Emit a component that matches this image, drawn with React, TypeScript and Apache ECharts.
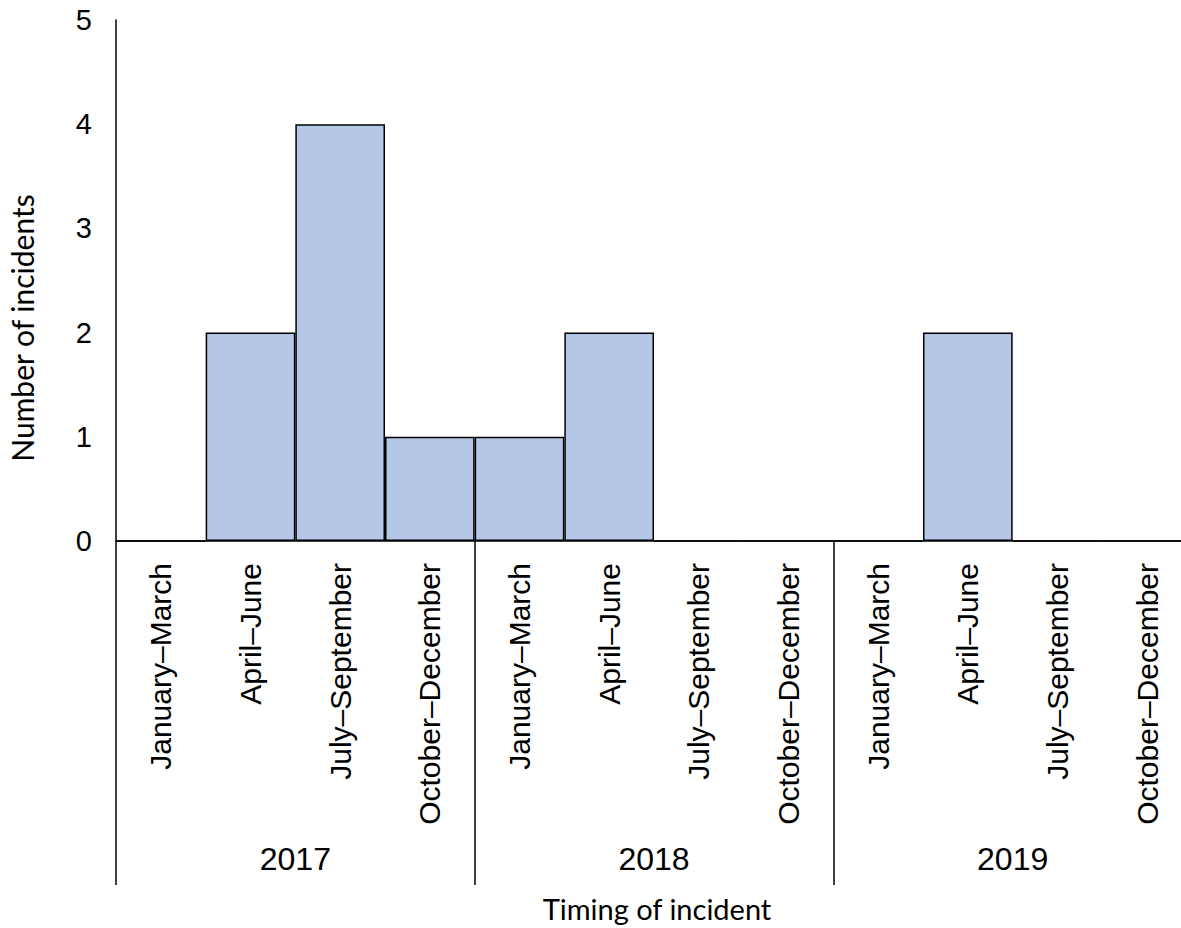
import React, { useEffect, useRef } from "react";
import * as echarts from "echarts";

const quarters = [
  "January–March", "April–June", "July–September", "October–December",
  "January–March", "April–June", "July–September", "October–December",
  "January–March", "April–June", "July–September", "October–December",
];
const years = ["2017", "2018", "2019"];
const incidents = [0, 2, 4, 1, 1, 2, 0, 0, 0, 2, 0, 0];
const yTicks = [0, 1, 2, 3, 4, 5];

export default function App() {
  const ref = useRef<HTMLDivElement>(null);
  useEffect(() => {
    if (!ref.current) return;
    const chart = echarts.init(ref.current, null, { renderer: "svg" });
    const labelFont = "Liberation Sans";
    chart.setOption({
      animation: false,
      backgroundColor: "#ffffff",
      grid: { left: 116, right: -11, top: 20, bottom: 387, outerBoundsMode: "none", containLabel: false },
      xAxis: [
        {
          type: "category",
          data: quarters,
          position: "bottom",
          axisLine: { show: true, lineStyle: { color: "#000", width: 1.5 } },
          axisTick: { show: false },
          axisLabel: {
            rotate: 90,
            margin: 22,
            color: "#000",
            fontSize: 30,
            fontFamily: labelFont,
            interval: 0,
          },
        },
        {
          type: "category",
          data: years,
          position: "bottom",
          axisLine: { show: false },
          axisTick: { show: true, length: 344, lineStyle: { color: "#000", width: 1.5 } },
          axisLabel: {
            margin: 302,
            color: "#000",
            fontSize: 32,
            fontFamily: labelFont,
            interval: 0,
          },
        },
      ],
      yAxis: {
        type: "value",
        min: yTicks[0],
        max: yTicks[yTicks.length - 1],
        interval: 1,
        axisLine: { show: true, lineStyle: { color: "#000", width: 1.5 } },
        axisTick: { show: false },
        splitLine: { show: false },
        axisLabel: { margin: 24, color: "#000", fontSize: 29, fontFamily: labelFont },
      },
      series: [
        {
          type: "bar",
          data: incidents,
          xAxisIndex: 0,
          barCategoryGap: "0%",
          itemStyle: { color: "#b4c7e7", borderColor: "#000", borderWidth: 1.5 },
        },
      ],
      graphic: [
        {
          type: "text",
          x: 22,
          y: 328,
          rotation: Math.PI / 2,
          style: {
            text: "Number of incidents",
            fontSize: 30,
            fontFamily: "Lato",
            fill: "#000",
            align: "center",
            verticalAlign: "middle",
          },
        },
        {
          type: "text",
          x: 657,
          y: 908,
          style: {
            text: "Timing of incident",
            fontSize: 29,
            fontFamily: "Lato",
            fill: "#000",
            align: "center",
            verticalAlign: "middle",
          },
        },
      ],
    });
    return () => chart.dispose();
  }, []);
  return (
    <div
      ref={ref}
      style={{ position: "fixed", left: 0, top: 0, width: 1181, height: 928, background: "#fff" }}
    />
  );
}
